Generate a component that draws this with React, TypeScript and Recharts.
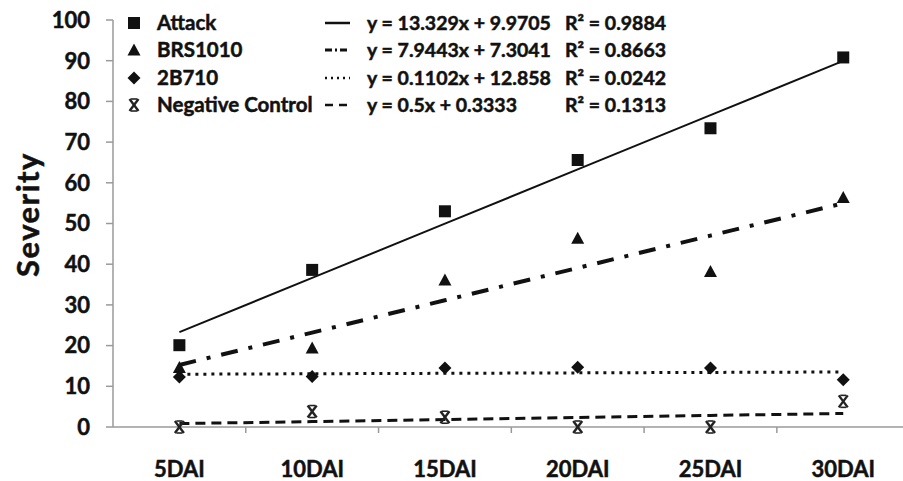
import React from 'react';
import { ComposedChart, Line, Scatter, XAxis, YAxis, Label } from 'recharts';

const categories = ['5DAI', '10DAI', '15DAI', '20DAI', '25DAI', '30DAI'];
const positions = [1, 2, 3, 4, 5, 6];
const attack = [20.1, 38.6, 53.0, 65.6, 73.4, 90.8];
const brs1010 = [14.6, 19.4, 36.1, 46.4, 38.2, 56.4];
const b2710 = [12.3, 12.4, 14.5, 14.7, 14.5, 11.6];
const negativeControl = [0, 3.8, 2.4, 0, 0, 6.3];
const seriesNames = ['Attack', 'BRS1010', '2B710', 'Negative Control'];
const slopes = [13.329, 7.9443, 0.1102, 0.5];
const intercepts = [9.9705, 7.3041, 12.858, 0.3333];
const equationLabels = [
  'y = 13.329x + 9.9705',
  'y = 7.9443x + 7.3041',
  'y = 0.1102x + 12.858',
  'y = 0.5x + 0.3333',
];
const r2Labels = ['R² = 0.9884', 'R² = 0.8663', 'R² = 0.0242', 'R² = 0.1313'];
const yTicks = [0, 10, 20, 30, 40, 50, 60, 70, 80, 90, 100];
const xTicks = [1, 1.5, 2, 2.5, 3, 3.5, 4, 4.5, 5, 5.5, 6];

const seriesValues = [attack, brs1010, b2710, negativeControl];
const keys = ['attack', 'brs', 'b2', 'neg'];

const table = positions.map((p, i) => {
  const row: any = { x: p };
  keys.forEach((k, s) => {
    row[k] = seriesValues[s][i];
    row[k + 'Fit'] = slopes[s] * p + intercepts[s];
  });
  return row;
});

const FONT = 'Lato, "Open Sans", sans-serif';
const AXIS = '#9a9a9a';
const INK = '#111';
const HEAVY = { stroke: INK, strokeWidth: 0.5, paintOrder: 'stroke' as const };

const lineStyles = [
  { width: 2, dash: undefined as string | undefined },
  { width: 4, dash: '17 11 4 11' },
  { width: 3, dash: '3 5' },
  { width: 3, dash: '10 6' },
];

function markerSvg(kind: number, cx: number, cy: number) {
  if (kind === 0) {
    return <rect x={cx - 6} y={cy - 6} width={12} height={12} fill={INK} />;
  }
  if (kind === 1) {
    return <polygon points={`${cx},${cy - 6.5} ${cx + 6.5},${cy + 5.5} ${cx - 6.5},${cy + 5.5}`} fill={INK} />;
  }
  if (kind === 2) {
    return <polygon points={`${cx},${cy - 6.5} ${cx + 6.5},${cy} ${cx},${cy + 6.5} ${cx - 6.5},${cy}`} fill={INK} />;
  }
  return (
    <g stroke="#222" fill="none">
      <line x1={cx - 4.5} y1={cy - 6} x2={cx + 4.5} y2={cy + 6} strokeWidth={2.4} />
      <line x1={cx + 4.5} y1={cy - 6} x2={cx - 4.5} y2={cy + 6} strokeWidth={2.4} />
      <line x1={cx - 3} y1={cy - 6} x2={cx + 3} y2={cy - 6} strokeWidth={1.6} />
      <line x1={cx - 3} y1={cy + 6} x2={cx + 3} y2={cy + 6} strokeWidth={1.6} />
    </g>
  );
}

const makeShape = (kind: number) => (props: any) => {
  const { cx, cy } = props;
  if (cx == null || cy == null) return <g />;
  return markerSvg(kind, cx, cy);
};

const XTick = (props: any) => {
  const { x, y, payload } = props;
  const v = payload.value;
  if (Number.isInteger(v)) {
    return (
      <text x={x} y={y + 50} textAnchor="middle" fontFamily={FONT} fontWeight={700} fontSize={22} fill={INK} {...HEAVY}>
        {categories[v - 1]}
      </text>
    );
  }
  return <line x1={x} x2={x} y1={y} y2={y + 6} stroke={AXIS} strokeWidth={1.5} />;
};

const YTick = (props: any) => {
  const { x, y, payload } = props;
  return (
    <text x={x} y={y} dy="0.355em" textAnchor="end" fontFamily={FONT} fontWeight={700} fontSize={22} fill={INK} {...HEAVY}>
      {payload.value}
    </text>
  );
};

const SeverityLabel = (props: any) => {
  const vb = props.viewBox || { x: 0, y: 0, width: 0, height: 0 };
  const cx = vb.x + 27;
  const cy = vb.y + vb.height / 2 - 9;
  return (
    <text
      transform={`translate(${cx}, ${cy}) rotate(-90)`}
      textAnchor="middle"
      dominantBaseline="central"
      fontFamily={FONT}
      fontWeight={700}
      fontSize={31}
      letterSpacing={1.5}
      fill={INK}
      {...HEAVY}
    >
      Severity
    </text>
  );
};

const LegendOverlay = () => {
  const baselines = [30, 57, 85, 112];
  return (
    <svg width={903} height={481} style={{ position: 'absolute', left: 0, top: 0, pointerEvents: 'none' }}>
      {seriesNames.map((name, i) => {
        const b = baselines[i];
        const cy = b - 7;
        return (
          <g key={name}>
            {markerSvg(i, 134, cy)}
            <text x={157} y={b} fontFamily={FONT} fontWeight={700} fontSize={20.5} fill={INK} {...HEAVY}>
              {name}
            </text>
            <line
              x1={325}
              x2={350}
              y1={cy}
              y2={cy}
              stroke={INK}
              strokeWidth={i === 1 ? 3 : 2.5}
              strokeDasharray={i === 1 ? '7 3 2 3' : i === 2 ? '2 4' : i === 3 ? '8 6' : undefined}
            />
            <text x={367} y={b} fontFamily={FONT} fontWeight={700} fontSize={19.5} fill={INK} {...HEAVY}>
              {equationLabels[i]}
            </text>
            <text x={565} y={b} fontFamily={FONT} fontWeight={700} fontSize={19.5} fill={INK} {...HEAVY}>
              {r2Labels[i]}
            </text>
          </g>
        );
      })}
    </svg>
  );
};

export default function App() {
  return (
    <div style={{ position: 'absolute', left: 0, top: 0, width: 903, height: 481, background: '#fff' }}>
      <ComposedChart
        width={903}
        height={481}
        data={table}
        margin={{ top: 20, right: 0, bottom: 0, left: 0 }}
      >
        <XAxis
          dataKey="x"
          type="number"
          domain={[0.5, 6.45]}
          allowDataOverflow
          ticks={xTicks}
          interval={0}
          tick={<XTick />}
          tickLine={false}
          tickSize={0}
          tickMargin={0}
          height={54}
          stroke={AXIS}
          strokeWidth={1.5}
        />
        <YAxis
          type="number"
          domain={[0, 100]}
          ticks={yTicks}
          interval={0}
          width={113}
          tickSize={7}
          tickMargin={16}
          stroke={AXIS}
          strokeWidth={1.5}
          tick={<YTick />}
        >
          <Label content={<SeverityLabel />} />
        </YAxis>
        {keys.map((k, s) => (
          <Line
            key={k + 'Fit'}
            dataKey={k + 'Fit'}
            type="linear"
            stroke={INK}
            strokeWidth={lineStyles[s].width}
            strokeDasharray={lineStyles[s].dash}
            dot={false}
            activeDot={false}
            isAnimationActive={false}
          />
        ))}
        {keys.map((k, s) => (
          <Scatter key={k} dataKey={k} shape={makeShape(s)} isAnimationActive={false} />
        ))}
      </ComposedChart>
      <LegendOverlay />
    </div>
  );
}
